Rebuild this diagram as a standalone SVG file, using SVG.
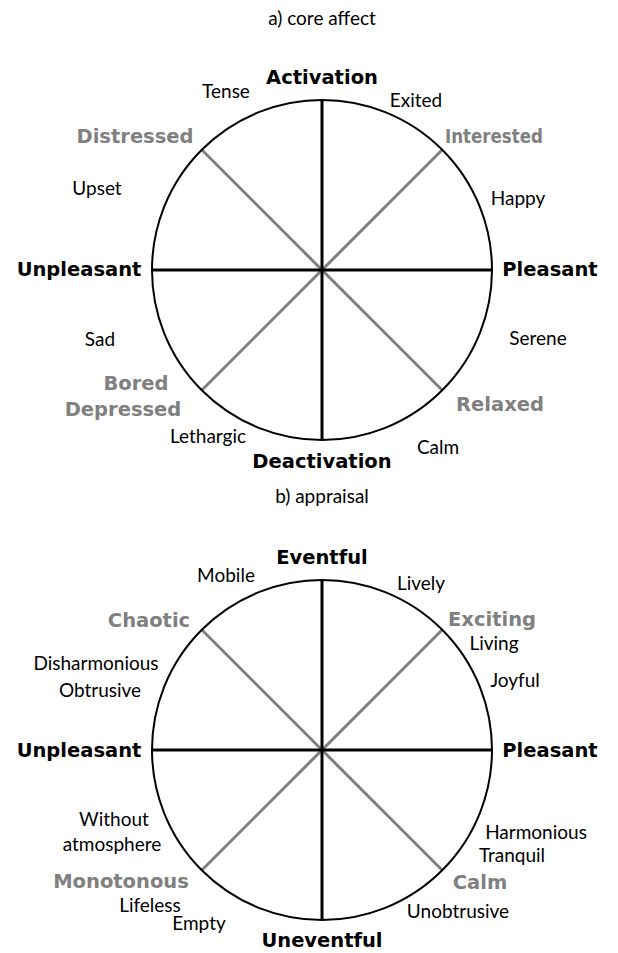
<svg xmlns="http://www.w3.org/2000/svg" width="618" height="953" viewBox="0 0 618 953">
<style>
  text { font-family: "Lato", "Liberation Sans", sans-serif; font-size: 19px; fill: #000; text-anchor: middle; }
  .b { font-family: "DejaVu Sans", "Liberation Sans", sans-serif; font-weight: bold; font-size: 19.5px; }
  .g { font-family: "DejaVu Sans", "Liberation Sans", sans-serif; font-weight: bold; font-size: 19.5px; fill: #808080; }
  .t { font-size: 19px; }
  .circ { fill: none; stroke: #000; stroke-width: 2; }
  .ax { stroke: #000; stroke-width: 3; }
  .dg { stroke: #808080; stroke-width: 3; }
</style>
<rect width="618" height="953" fill="#fff"/>
<g id="connectors">
  <line class="dg" x1="202" y1="150" x2="442" y2="390"/>
  <line class="dg" x1="442" y1="150" x2="202" y2="390"/>
  <line class="ax" x1="322" y1="100" x2="322" y2="440"/>
  <line class="ax" x1="152" y1="270" x2="492" y2="270"/>
  <line class="dg" x1="202" y1="630" x2="442" y2="870"/>
  <line class="dg" x1="442" y1="630" x2="202" y2="870"/>
  <line class="ax" x1="322" y1="580" x2="322" y2="920"/>
  <line class="ax" x1="152" y1="750" x2="492" y2="750"/>
</g>
<g id="circle-a"><circle class="circ" cx="322" cy="270" r="170"/></g>
<g id="circle-b"><circle class="circ" cx="322" cy="750" r="170"/></g>
<g id="labels-a">
  <text class="t" x="322" y="25">a) core affect</text>
  <text class="b" x="322" y="84">Activation</text>
  <text x="226" y="98">Tense</text>
  <text x="416" y="107">Exited</text>
  <text class="g" x="135" y="143">Distressed</text>
  <text class="g" x="494" y="143" textLength="98" lengthAdjust="spacingAndGlyphs">Interested</text>
  <text x="97" y="195">Upset</text>
  <text x="518" y="205">Happy</text>
  <text class="b" x="79" y="276">Unpleasant</text>
  <text class="b" x="550" y="276">Pleasant</text>
  <text x="100" y="346">Sad</text>
  <text x="538" y="345">Serene</text>
  <text class="g" x="136" y="390">Bored</text>
  <text class="g" x="123" y="416">Depressed</text>
  <text class="g" x="500" y="411">Relaxed</text>
  <text x="208" y="443">Lethargic</text>
  <text x="438" y="454">Calm</text>
  <text class="b" x="322" y="468">Deactivation</text>
</g>
<g id="labels-b">
  <text class="t" x="322" y="503">b) appraisal</text>
  <text class="b" x="322" y="564">Eventful</text>
  <text x="226" y="582">Mobile</text>
  <text x="421" y="590">Lively</text>
  <text class="g" x="149" y="627">Chaotic</text>
  <text class="g" x="492" y="626">Exciting</text>
  <text x="494" y="650">Living</text>
  <text x="96" y="670">Disharmonious</text>
  <text x="515" y="687">Joyful</text>
  <text x="100" y="697">Obtrusive</text>
  <text class="b" x="79" y="757">Unpleasant</text>
  <text class="b" x="550" y="757">Pleasant</text>
  <text x="114" y="826">Without</text>
  <text x="112" y="851">atmosphere</text>
  <text x="536" y="839">Harmonious</text>
  <text x="512" y="862">Tranquil</text>
  <text class="g" x="121" y="888">Monotonous</text>
  <text class="g" x="480" y="889">Calm</text>
  <text x="150" y="912">Lifeless</text>
  <text x="199" y="930">Empty</text>
  <text x="458" y="918">Unobtrusive</text>
  <text class="b" x="322" y="947">Uneventful</text>
</g>
</svg>
